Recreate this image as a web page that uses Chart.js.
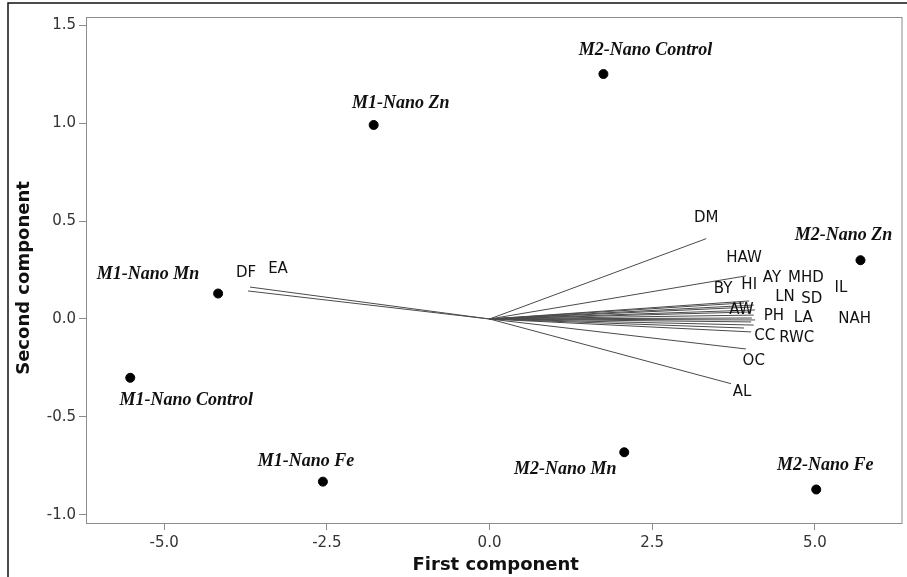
<!DOCTYPE html>
<html>
<head>
<meta charset="utf-8">
<script src="https://cdn.jsdelivr.net/npm/chart.js@4/dist/chart.umd.min.js"></script>
<style>
  html, body { margin: 0; padding: 0; background: #fff; }
  #wrap { width: 907px; height: 577px; position: relative; }
</style>
</head>
<body>
<div id="wrap"><canvas id="biplot"></canvas></div>
<script>
// PCA biplot: treatment scores + trait loading vectors
const xTicks = [-5, -2.5, 0, 2.5, 5];
const yTicks = [-1, -0.5, 0, 0.5, 1, 1.5];

const treatments = ["M1-Nano Control", "M1-Nano Mn", "M1-Nano Zn", "M1-Nano Fe",
                    "M2-Nano Control", "M2-Nano Mn", "M2-Nano Zn", "M2-Nano Fe"];
const pc1Scores = [-5.52, -4.17, -1.78, -2.56, 1.75, 2.07, 5.70, 5.02];
const pc2Scores = [-0.30, 0.13, 0.99, -0.83, 1.25, -0.68, 0.30, -0.87];

const traits = ["DM", "HAW", "BY", "HI", "AY", "MHD", "IL", "LN", "SD", "AW",
                "PH", "LA", "NAH", "CC", "RWC", "OC", "AL", "DF", "EA"];
const pc1Loadings = [3.33, 3.94, 3.91, 3.99, 4.06, 4.02, 4.08, 4.02, 4.06, 4.03,
                     4.08, 4.02, 4.06, 4.02, 3.91, 3.94, 3.71, -3.68, -3.71];
const pc2Loadings = [0.41, 0.22, 0.082, 0.092, 0.071, 0.061, 0.046, 0.036, 0.020, 0.005,
                     -0.005, -0.015, -0.031, -0.066, -0.046, -0.153, -0.33, 0.163, 0.143];

// where each trait name sits (axis units)
const traitLabelPc1 = [3.33, 3.91, 3.59, 3.99, 4.34, 4.86, 5.40, 4.54, 4.95, 3.87,
                       4.37, 4.82, 5.61, 4.23, 4.72, 4.06, 3.88, -3.74, -3.25];
const traitLabelPc2 = [0.515, 0.311, 0.153, 0.173, 0.209, 0.209, 0.158, 0.112, 0.102, 0.046,
                       0.015, 0.005, 0.0, -0.087, -0.097, -0.214, -0.372, 0.235, 0.255];

// treatment name offsets from the dot, in px
const scoreLabelOffset = [[56, 23], [-70, -19], [27, -22], [-17, -20],
                          [42, -24], [-59, 17], [-17, -25], [9, -24]];

const vectorSets = traits.map((t, i) => ({
  label: t,
  data: [{ x: 0, y: 0 }, { x: pc1Loadings[i], y: pc2Loadings[i] }],
  showLine: true,
  borderColor: "#4a4a4a",
  borderWidth: 1,
  pointRadius: 0,
  fill: false,
}));

const scoreSet = {
  label: "scores",
  data: pc1Scores.map((x, i) => ({ x, y: pc2Scores[i] })),
  backgroundColor: "#000",
  borderColor: "#000",
  pointRadius: 4.5,
  showLine: false,
};

const decorPlugin = {
  id: "decor",
  beforeDraw(chart) {
    const ctx = chart.ctx;
    ctx.save();
    ctx.strokeStyle = "#111";
    ctx.lineWidth = 1.5;
    ctx.beginPath();
    ctx.moveTo(8, 577);
    ctx.lineTo(8, 3);
    ctx.lineTo(907, 3);
    ctx.stroke();
    ctx.restore();
  },
  afterDatasetsDraw(chart) {
    const { ctx, chartArea: a, scales } = chart;
    const sx = scales.x, sy = scales.y;
    ctx.save();
    ctx.strokeStyle = "#8c8c8c";
    ctx.lineWidth = 1;
    ctx.strokeRect(a.left + 0.5, a.top + 0.5, a.right - a.left, a.bottom - a.top);

    ctx.fillStyle = "#111";
    ctx.textAlign = "center";
    ctx.textBaseline = "middle";
    ctx.font = "15px 'DejaVu Sans'";
    traits.forEach((t, i) => {
      ctx.fillText(t, sx.getPixelForValue(traitLabelPc1[i]), sy.getPixelForValue(traitLabelPc2[i]));
    });

    ctx.font = "italic bold 18px 'Liberation Serif'";
    treatments.forEach((t, i) => {
      const px = sx.getPixelForValue(pc1Scores[i]) + scoreLabelOffset[i][0];
      const py = sy.getPixelForValue(pc2Scores[i]) + scoreLabelOffset[i][1];
      ctx.fillText(t, px, py);
    });

    ctx.font = "bold 18px 'DejaVu Sans'";
    ctx.fillText("First component", (a.left + a.right) / 2 + 2, 565);
    ctx.translate(24, (a.top + a.bottom) / 2 + 8);
    ctx.rotate(-Math.PI / 2);
    ctx.fillText("Second component", 0, 0);
    ctx.restore();
  },
};

const tickFont = { family: "'DejaVu Sans'", size: 15 };

new Chart(document.getElementById("biplot"), {
  type: "scatter",
  data: { datasets: [...vectorSets, scoreSet] },
  options: {
    responsive: true,
    maintainAspectRatio: false,
    animation: false,
    layout: { padding: { left: 0, top: 17, right: 4, bottom: 0 } },
    plugins: { legend: { display: false }, tooltip: { enabled: false } },
    scales: {
      x: {
        type: "linear",
        min: -6.2,
        max: 6.33,
        afterBuildTicks: (s) => { s.ticks = xTicks.map((v) => ({ value: v })); },
        afterFit: (s) => { s.height = 54; },
        ticks: { color: "#333", font: tickFont, padding: 4, callback: (v) => v.toFixed(1) },
        grid: { drawOnChartArea: false, drawTicks: true, tickLength: 7, color: "#8c8c8c" },
        border: { display: false },
      },
      y: {
        type: "linear",
        min: -1.041,
        max: 1.541,
        afterBuildTicks: (s) => { s.ticks = yTicks.map((v) => ({ value: v })); },
        afterFit: (s) => { s.width = 86; },
        ticks: { color: "#333", font: tickFont, padding: 3, callback: (v) => v.toFixed(1) },
        grid: { drawOnChartArea: false, drawTicks: true, tickLength: 7, color: "#8c8c8c" },
        border: { display: false },
      },
    },
  },
  plugins: [decorPlugin],
});
</script>
</body>
</html>
